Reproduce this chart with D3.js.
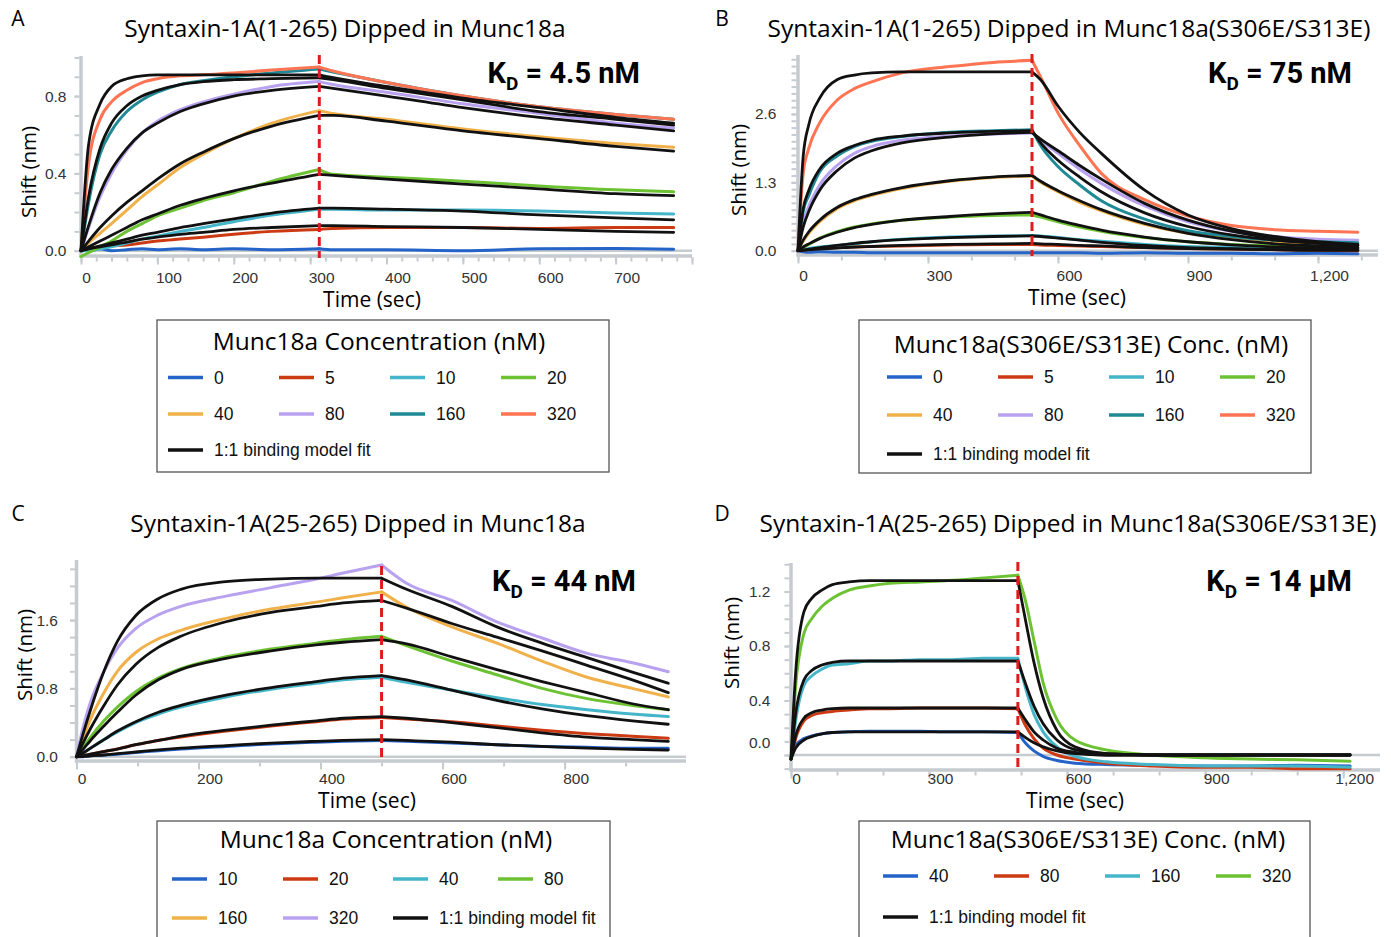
<!DOCTYPE html>
<html><head><meta charset="utf-8">
<script src="https://cdn.jsdelivr.net/npm/d3@7"></script>
<style>body{margin:0;background:#fff}svg{display:block}</style>
</head><body>
<svg id="c" width="1391" height="937"></svg>
<script>
// ---------------- DATA ----------------
// Panel A : Syntaxin-1A(1-265) dipped in Munc18a
const timeA = [0, 10, 25, 40, 60, 80, 100, 130, 160, 200, 250, 312, 330, 400, 500, 600, 700, 776];
const switchA = 312;
const concA = ["0", "5", "10", "20", "40", "80", "160", "320"];
const a0   = [0, 0.005, 0.01, 0.0, 0.005, 0.01, 0.005, 0.01, 0.005, 0.01, 0.005, 0.01, 0.005, 0.005, 0.0, 0.01, 0.012, 0.008];
const a5   = [0.01, 0.015, 0.02, 0.025, 0.03, 0.04, 0.05, 0.06, 0.07, 0.085, 0.10, 0.11, 0.115, 0.12, 0.12, 0.115, 0.12, 0.12];
const a10  = [0, 0.0, 0.01, 0.02, 0.04, 0.06, 0.075, 0.10, 0.12, 0.15, 0.185, 0.215, 0.215, 0.21, 0.21, 0.205, 0.195, 0.19];
const a20  = [-0.03, -0.01, 0.02, 0.05, 0.10, 0.14, 0.18, 0.22, 0.26, 0.30, 0.36, 0.42, 0.395, 0.38, 0.36, 0.335, 0.315, 0.305];
const a40  = [0, 0.04, 0.09, 0.14, 0.21, 0.28, 0.34, 0.43, 0.50, 0.58, 0.66, 0.725, 0.71, 0.68, 0.63, 0.59, 0.555, 0.535];
const a80  = [0, 0.12, 0.28, 0.40, 0.52, 0.61, 0.67, 0.73, 0.77, 0.81, 0.85, 0.875, 0.86, 0.82, 0.76, 0.71, 0.66, 0.635];
const a160 = [0, 0.25, 0.50, 0.62, 0.72, 0.78, 0.82, 0.86, 0.88, 0.90, 0.92, 0.94, 0.925, 0.87, 0.80, 0.745, 0.705, 0.68];
const a320 = [0, 0.45, 0.68, 0.77, 0.83, 0.87, 0.89, 0.905, 0.91, 0.92, 0.935, 0.95, 0.93, 0.87, 0.80, 0.745, 0.705, 0.68];
const fa5   = [0, 0.01, 0.02, 0.03, 0.045, 0.06, 0.07, 0.085, 0.095, 0.11, 0.12, 0.13, 0.13, 0.125, 0.12, 0.11, 0.10, 0.095];
const fa10  = [0, 0.01, 0.025, 0.04, 0.06, 0.08, 0.095, 0.12, 0.14, 0.165, 0.195, 0.22, 0.22, 0.215, 0.205, 0.185, 0.17, 0.16];
const fa20  = [0, 0.02, 0.05, 0.08, 0.12, 0.16, 0.19, 0.235, 0.27, 0.31, 0.35, 0.395, 0.39, 0.37, 0.345, 0.32, 0.295, 0.285];
const fa40  = [0, 0.05, 0.12, 0.18, 0.25, 0.31, 0.37, 0.45, 0.51, 0.58, 0.645, 0.70, 0.70, 0.67, 0.62, 0.58, 0.54, 0.515];
const fa80  = [0, 0.13, 0.30, 0.42, 0.53, 0.61, 0.66, 0.72, 0.76, 0.80, 0.83, 0.85, 0.84, 0.80, 0.74, 0.69, 0.65, 0.62];
const fa160 = [0, 0.28, 0.53, 0.66, 0.75, 0.80, 0.83, 0.86, 0.875, 0.885, 0.89, 0.895, 0.885, 0.84, 0.78, 0.72, 0.68, 0.65];
const fa320 = [0, 0.55, 0.76, 0.85, 0.89, 0.905, 0.91, 0.91, 0.91, 0.91, 0.91, 0.91, 0.895, 0.85, 0.79, 0.74, 0.69, 0.66];

// Panel B : Syntaxin-1A(1-265) dipped in Munc18a(S306E/S313E)
const timeB = [0, 12, 25, 50, 90, 130, 170, 240, 350, 450, 540, 560, 600, 650, 700, 800, 900, 1000, 1100, 1200, 1292];
const switchB = 540;
const concB = ["0", "5", "10", "20", "40", "80", "160", "320"];
const b0   = [0, -0.02, -0.03, -0.02, -0.03, -0.03, -0.04, -0.04, -0.04, -0.04, -0.04, -0.04, -0.04, -0.04, -0.05, -0.04, -0.05, -0.05, -0.06, -0.05, -0.06];
const b5   = [0, 0.01, 0.02, 0.04, 0.06, 0.07, 0.08, 0.09, 0.11, 0.12, 0.12, 0.11, 0.10, 0.09, 0.08, 0.06, 0.04, 0.03, 0.02, 0.01, 0.0];
const b10  = [0, 0.02, 0.04, 0.07, 0.10, 0.13, 0.17, 0.22, 0.26, 0.28, 0.29, 0.28, 0.25, 0.21, 0.18, 0.12, 0.08, 0.06, 0.05, 0.04, 0.04];
const b20  = [0, 0.06, 0.12, 0.24, 0.36, 0.45, 0.51, 0.58, 0.64, 0.67, 0.68, 0.64, 0.55, 0.45, 0.37, 0.25, 0.17, 0.12, 0.09, 0.07, 0.06];
const b40  = [0, 0.18, 0.33, 0.55, 0.80, 0.95, 1.05, 1.18, 1.32, 1.39, 1.42, 1.30, 1.12, 0.92, 0.76, 0.50, 0.33, 0.23, 0.17, 0.13, 0.10];
const b80  = [0, 0.55, 0.85, 1.25, 1.62, 1.85, 1.98, 2.10, 2.18, 2.22, 2.24, 2.10, 1.85, 1.55, 1.28, 0.85, 0.55, 0.37, 0.27, 0.22, 0.20];
const b160 = [0, 0.75, 1.05, 1.50, 1.80, 1.98, 2.08, 2.17, 2.25, 2.28, 2.30, 2.00, 1.60, 1.25, 0.95, 0.60, 0.38, 0.27, 0.20, 0.17, 0.15];
const b320 = [0, 1.47, 1.95, 2.43, 2.86, 3.08, 3.21, 3.38, 3.50, 3.58, 3.62, 3.30, 2.62, 2.00, 1.47, 0.97, 0.66, 0.48, 0.40, 0.37, 0.35];
const fb5   = [0, 0.01, 0.02, 0.03, 0.05, 0.07, 0.08, 0.10, 0.12, 0.13, 0.14, 0.13, 0.12, 0.10, 0.09, 0.06, 0.04, 0.03, 0.02, 0.01, 0.01];
const fb10  = [0, 0.01, 0.03, 0.06, 0.10, 0.14, 0.17, 0.21, 0.25, 0.27, 0.28, 0.27, 0.24, 0.20, 0.16, 0.10, 0.06, 0.04, 0.02, 0.01, 0.01];
const fb20  = [0, 0.07, 0.13, 0.23, 0.35, 0.44, 0.50, 0.58, 0.65, 0.70, 0.73, 0.68, 0.58, 0.48, 0.39, 0.26, 0.17, 0.11, 0.07, 0.05, 0.04];
const fb40  = [0, 0.20, 0.36, 0.58, 0.82, 0.97, 1.07, 1.20, 1.33, 1.40, 1.43, 1.32, 1.14, 0.95, 0.78, 0.52, 0.33, 0.21, 0.13, 0.09, 0.06];
const fb80  = [0, 0.45, 0.75, 1.15, 1.52, 1.76, 1.90, 2.05, 2.16, 2.22, 2.25, 2.12, 1.90, 1.62, 1.36, 0.90, 0.58, 0.37, 0.23, 0.15, 0.10];
const fb160 = [0, 0.80, 1.15, 1.55, 1.85, 2.00, 2.10, 2.18, 2.24, 2.27, 2.28, 2.05, 1.72, 1.40, 1.12, 0.72, 0.46, 0.30, 0.20, 0.14, 0.10];
const fb320 = [0, 1.80, 2.40, 2.90, 3.25, 3.34, 3.38, 3.40, 3.40, 3.40, 3.40, 3.25, 2.75, 2.25, 1.85, 1.15, 0.68, 0.42, 0.27, 0.17, 0.12];

// Panel C : Syntaxin-1A(25-265) dipped in Munc18a
const timeC = [0, 10, 23, 45, 67, 97, 134, 171, 245, 319, 393, 437, 500, 541, 615, 689, 763, 837, 911, 970];
const switchC = 500;
const concC = ["10", "20", "40", "80", "160", "320"];
const c10  = [0, 0.0, 0.01, 0.02, 0.03, 0.05, 0.07, 0.09, 0.12, 0.15, 0.17, 0.18, 0.19, 0.18, 0.16, 0.14, 0.12, 0.11, 0.10, 0.10];
const c20  = [0, 0.01, 0.03, 0.06, 0.09, 0.14, 0.19, 0.23, 0.30, 0.36, 0.41, 0.44, 0.46, 0.44, 0.41, 0.36, 0.31, 0.27, 0.24, 0.215];
const c40  = [0, 0.04, 0.10, 0.20, 0.29, 0.40, 0.50, 0.58, 0.70, 0.79, 0.86, 0.90, 0.93, 0.87, 0.78, 0.69, 0.61, 0.55, 0.50, 0.47];
const c80  = [0, 0.10, 0.23, 0.42, 0.58, 0.76, 0.92, 1.03, 1.17, 1.26, 1.33, 1.37, 1.41, 1.30, 1.12, 0.96, 0.80, 0.68, 0.60, 0.55];
const c160 = [0, 0.20, 0.44, 0.75, 1.00, 1.22, 1.38, 1.48, 1.62, 1.73, 1.81, 1.86, 1.93, 1.75, 1.52, 1.33, 1.12, 0.93, 0.80, 0.70];
const c320 = [0, 0.32, 0.64, 1.00, 1.27, 1.50, 1.66, 1.76, 1.88, 1.98, 2.08, 2.15, 2.245, 2.03, 1.83, 1.58, 1.39, 1.21, 1.10, 0.995];
const fc10  = [0, 0.0, 0.01, 0.02, 0.035, 0.055, 0.08, 0.10, 0.13, 0.16, 0.18, 0.19, 0.20, 0.19, 0.17, 0.14, 0.12, 0.10, 0.085, 0.078];
const fc20  = [0, 0.01, 0.03, 0.06, 0.09, 0.14, 0.19, 0.24, 0.31, 0.37, 0.42, 0.45, 0.47, 0.45, 0.40, 0.34, 0.28, 0.23, 0.20, 0.18];
const fc40  = [0, 0.04, 0.10, 0.20, 0.30, 0.41, 0.52, 0.60, 0.72, 0.81, 0.88, 0.92, 0.95, 0.90, 0.78, 0.66, 0.56, 0.48, 0.42, 0.38];
const fc80  = [0, 0.08, 0.19, 0.36, 0.52, 0.72, 0.90, 1.02, 1.15, 1.24, 1.31, 1.34, 1.37, 1.32, 1.17, 1.02, 0.88, 0.75, 0.62, 0.55];
const fc160 = [0, 0.15, 0.33, 0.60, 0.84, 1.08, 1.28, 1.41, 1.58, 1.69, 1.76, 1.80, 1.83, 1.74, 1.56, 1.40, 1.24, 1.07, 0.90, 0.75];
const fc320 = [0, 0.25, 0.55, 1.00, 1.35, 1.65, 1.85, 1.96, 2.05, 2.08, 2.09, 2.09, 2.09, 1.96, 1.76, 1.52, 1.33, 1.16, 0.99, 0.86];

// Panel D : Syntaxin-1A(25-265) dipped in Munc18a(S306E/S313E)
const timeD = [0, 10, 28, 45, 67, 90, 126, 170, 215, 280, 343, 420, 493, 509, 528, 548, 578, 617, 686, 784, 900, 1000, 1100, 1215];
const switchD = 493;
const concD = ["40", "80", "160", "320"];
const d40  = [-0.03, 0.07, 0.12, 0.14, 0.155, 0.165, 0.17, 0.175, 0.175, 0.175, 0.17, 0.17, 0.165, 0.09, 0.03, -0.01, -0.04, -0.06, -0.07, -0.075, -0.08, -0.08, -0.075, -0.08];
const d80  = [-0.03, 0.12, 0.25, 0.29, 0.31, 0.32, 0.33, 0.34, 0.34, 0.345, 0.345, 0.345, 0.34, 0.22, 0.12, 0.05, 0.0, -0.03, -0.06, -0.08, -0.09, -0.09, -0.10, -0.10];
const d160 = [-0.03, 0.25, 0.51, 0.58, 0.63, 0.66, 0.67, 0.69, 0.69, 0.70, 0.70, 0.71, 0.71, 0.50, 0.30, 0.17, 0.06, -0.01, -0.05, -0.07, -0.08, -0.08, -0.08, -0.09];
const d320 = [-0.03, 0.50, 0.89, 1.00, 1.09, 1.15, 1.21, 1.24, 1.26, 1.27, 1.28, 1.30, 1.32, 1.14, 0.84, 0.53, 0.26, 0.11, 0.037, 0.0, -0.02, -0.03, -0.035, -0.045];
const fd40  = [-0.03, 0.05, 0.11, 0.135, 0.155, 0.165, 0.17, 0.17, 0.17, 0.17, 0.17, 0.17, 0.17, 0.13, 0.09, 0.06, 0.03, 0.01, 0.0, 0, 0, 0, 0, 0];
const fd80  = [-0.03, 0.14, 0.27, 0.31, 0.33, 0.34, 0.345, 0.345, 0.345, 0.345, 0.345, 0.345, 0.345, 0.26, 0.17, 0.11, 0.05, 0.02, 0.0, 0, 0, 0, 0, 0];
const fd160 = [-0.03, 0.30, 0.55, 0.62, 0.66, 0.68, 0.69, 0.69, 0.69, 0.69, 0.69, 0.69, 0.69, 0.53, 0.36, 0.23, 0.11, 0.04, 0.01, 0, 0, 0, 0, 0];
const fd320 = [-0.03, 0.60, 1.05, 1.15, 1.21, 1.25, 1.27, 1.28, 1.28, 1.28, 1.28, 1.28, 1.28, 1.00, 0.68, 0.42, 0.18, 0.06, 0.01, 0, 0, 0, 0, 0];

// Texts
const titles = ["Syntaxin-1A(1-265) Dipped in Munc18a", "Syntaxin-1A(1-265) Dipped in Munc18a(S306E/S313E)",
                "Syntaxin-1A(25-265) Dipped in Munc18a", "Syntaxin-1A(25-265) Dipped in Munc18a(S306E/S313E)"];
const letters = ["A", "B", "C", "D"];
const kdValues = ["4.5 nM", "75 nM", "44 nM", "14 μM"];
const legendTitles = ["Munc18a Concentration (nM)", "Munc18a(S306E/S313E) Conc. (nM)",
                      "Munc18a Concentration (nM)", "Munc18a(S306E/S313E) Conc. (nM)"];
const fitLabel = "1:1 binding model fit";

// ---------------- STYLE ----------------
const BLUE = "#2463c8", RED = "#cc3a14", CYAN = "#45b6c9", GREEN = "#6cc233",
      ORANGE = "#f0b14a", LAV = "#b8a2f0", TEAL = "#1f8a95", SALMON = "#ff7452";
const AXIS = "#c6cbd0", FIT = "#111";
const colorsAB = [BLUE, RED, CYAN, GREEN, ORANGE, LAV, TEAL, SALMON];
const colorsC = [BLUE, RED, CYAN, GREEN, ORANGE, LAV];
const colorsD = [BLUE, RED, CYAN, GREEN];

const svg = d3.select("#c");
const TXT = "'Open Sans', 'Noto Sans', sans-serif";
const ARIAL = "'Liberation Sans', Arial, sans-serif";
const TICKFS = 15.5;

function drawPanel(cfg) {
  const g = svg.append("g");
  const x = d3.scaleLinear().domain([0, cfg.tMax]).range([cfg.x0, cfg.x1]);
  const y = d3.scaleLinear().domain([0, 1]).range([cfg.yZero, cfg.yZero - cfg.pxPerUnit]);

  // zero line
  g.append("line").attr("x1", cfg.x0).attr("x2", cfg.x1).attr("y1", y(0)).attr("y2", y(0))
    .attr("stroke", AXIS).attr("stroke-width", 2.5);
  // axis lines
  g.append("line").attr("x1", cfg.x0).attr("x2", cfg.x0).attr("y1", cfg.yTop).attr("y2", cfg.xAxisY + 1.5)
    .attr("stroke", AXIS).attr("stroke-width", 3.5);
  g.append("line").attr("x1", cfg.x0 - 1.5).attr("x2", cfg.x1).attr("y1", cfg.xAxisY).attr("y2", cfg.xAxisY)
    .attr("stroke", AXIS).attr("stroke-width", 3.5);

  // x ticks
  const xg = g.append("g").attr("transform", `translate(0,${cfg.xAxisY + 1.5})`);
  xg.append("g").call(d3.axisBottom(x).tickValues(cfg.minorX).tickSize(4).tickSizeOuter(0).tickFormat(""));
  xg.append("g").call(d3.axisBottom(x).tickValues(cfg.majorX).tickSize(7).tickSizeOuter(0).tickFormat(cfg.fmtX));
  xg.selectAll(".domain").remove();
  xg.selectAll(".tick line").attr("stroke", AXIS).attr("stroke-width", 2);
  xg.selectAll(".tick text").attr("y", cfg.xLabelOff).attr("dy", "0.35em")
    .attr("dx", d => d === 0 ? 5 : 11)
    .attr("font-family", ARIAL).attr("font-size", TICKFS).attr("fill", "#333");

  // y ticks
  const yg = g.append("g").attr("transform", `translate(${cfg.x0 - 1.5},0)`);
  yg.append("g").call(d3.axisLeft(y).tickValues(cfg.minorY).tickSize(5).tickSizeOuter(0).tickFormat(""));
  yg.append("g").call(d3.axisLeft(y).tickValues(cfg.majorY).tickSize(5).tickSizeOuter(0).tickFormat(d3.format(".1f")));
  yg.selectAll(".domain").remove();
  yg.selectAll(".tick line").attr("stroke", AXIS).attr("stroke-width", 2);
  yg.selectAll(".tick text").attr("x", -cfg.yLabelGap).attr("dy", d => (d === 0 && cfg.zeroShift) ? (0.32 * TICKFS - cfg.zeroShift) + "px" : "0.32em")
    .attr("font-family", ARIAL).attr("font-size", TICKFS).attr("fill", "#333");

  // curves: split association / dissociation
  const line = d3.line().x(d => x(d[0])).y(d => y(d[1])).curve(d3.curveMonotoneX);
  const k = cfg.times.indexOf(cfg.switchT);
  function drawCurve(vals, color, w) {
    const pts = cfg.times.map((t, i) => [t, vals[i]]);
    [pts.slice(0, k + 1), pts.slice(k)].forEach(seg => {
      g.append("path").attr("d", line(seg)).attr("fill", "none").attr("stroke", color)
        .attr("stroke-width", w).attr("stroke-linejoin", "round").attr("stroke-linecap", "round");
    });
  }
  cfg.data.forEach((v, i) => drawCurve(v, cfg.colors[i], 3));
  cfg.fits.forEach(v => drawCurve(v, FIT, 2.8));

  // red dashed line at switch
  g.append("line").attr("x1", x(cfg.switchT)).attr("x2", x(cfg.switchT))
    .attr("y1", cfg.redTop).attr("y2", cfg.redBottom)
    .attr("stroke", "#e01b1b").attr("stroke-width", 3).attr("stroke-dasharray", "9,5");

  // axis titles
  g.append("text").attr("x", cfg.timeX).attr("y", cfg.timeY).attr("text-anchor", "middle")
    .attr("dominant-baseline", "central").attr("font-family", TXT).attr("font-size", 21).text("Time (sec)");
  g.append("text").attr("transform", `translate(${cfg.shiftX},${cfg.shiftY}) rotate(-90)`)
    .attr("text-anchor", "middle").attr("dominant-baseline", "central")
    .attr("font-family", TXT).attr("font-size", 20.5).text("Shift (nm)");

  // title & letter
  g.append("text").attr("x", cfg.titleX).attr("y", cfg.titleY).attr("text-anchor", "middle")
    .attr("dominant-baseline", "central").attr("font-family", TXT).attr("font-size", 24.5).text(cfg.title);
  g.append("text").attr("x", cfg.letterX).attr("y", cfg.titleY - 9).attr("text-anchor", "middle")
    .attr("dominant-baseline", "central").attr("font-family", TXT).attr("font-size", 21).text(cfg.letter);

  // KD
  const kd = g.append("text").attr("x", cfg.kdX).attr("y", cfg.kdY).attr("text-anchor", "end")
    .attr("font-family", "Roboto, 'Open Sans', sans-serif").attr("font-weight", 700).attr("font-size", 29);
  kd.append("tspan").text("K");
  kd.append("tspan").attr("font-size", 19).attr("dy", 7).text("D");
  kd.append("tspan").attr("dy", -7).text(" = " + cfg.kd);

  // legend
  const L = cfg.legend;
  g.append("rect").attr("x", L.x).attr("y", L.y).attr("width", L.w).attr("height", L.h)
    .attr("fill", "none").attr("stroke", "#555").attr("stroke-width", 1.3);
  g.append("text").attr("x", L.tx).attr("y", L.ty).attr("text-anchor", "middle").attr("dominant-baseline", "central")
    .attr("font-family", TXT).attr("font-size", 24.5).text(cfg.legendTitle);
  const items = cfg.concs.map((c, i) => ({label: c, color: cfg.colors[i]}));
  items.push({label: fitLabel, color: FIT});
  items.forEach((it, i) => {
    const col = i % 4, row = Math.floor(i / 4);
    const lx = L.cols[col], ly = L.rows[row];
    g.append("line").attr("x1", lx).attr("x2", lx + 35).attr("y1", ly).attr("y2", ly)
      .attr("stroke", it.color).attr("stroke-width", 3.5);
    g.append("text").attr("x", lx + 46).attr("y", ly).attr("dominant-baseline", "central")
      .attr("font-family", ARIAL).attr("font-size", 17.5).attr("fill", "#111").text(it.label);
  });
}

const fmtInt = d3.format("d"), fmtComma = d3.format(",");

drawPanel({
  title: titles[0], letter: letters[0], kd: kdValues[0], legendTitle: legendTitles[0],
  times: timeA, switchT: switchA, concs: concA, colors: colorsAB,
  data: [a0, a5, a10, a20, a40, a80, a160, a320],
  fits: [fa5, fa10, fa20, fa40, fa80, fa160, fa320],
  x0: 81, x1: 692, tMax: 800, yZero: 250.7, pxPerUnit: 193.25, yTop: 56, xAxisY: 256,
  majorX: d3.range(0, 801, 100), minorX: d3.range(0, 801, 20), fmtX: d => d <= 700 ? fmtInt(d) : "",
  majorY: [0, 0.4, 0.8], minorY: d3.range(0, 1.01, 0.1), yLabelGap: 13, xLabelOff: 20,
  redTop: 55, redBottom: 258,
  timeX: 372, timeY: 299, shiftX: 28, shiftY: 172, titleX: 345, titleY: 27, letterX: 18,
  kdX: 640, kdY: 83,
  legend: {x: 157, y: 320, w: 452, h: 152, tx: 379, ty: 340, cols: [168, 279, 390, 501], rows: [377.5, 414, 450]}
});

drawPanel({
  title: titles[1], letter: letters[1], kd: kdValues[1], legendTitle: legendTitles[1],
  times: timeB, switchT: switchB, concs: concB, colors: colorsAB,
  data: [b0, b5, b10, b20, b40, b80, b160, b320],
  fits: [fb5, fb10, fb20, fb40, fb80, fb160, fb320],
  x0: 798, x1: 1378, tMax: 1338.5, yZero: 250.7, pxPerUnit: 52.6, yTop: 55, xAxisY: 255,
  majorX: d3.range(0, 1201, 300), minorX: d3.range(0, 1301, 100), fmtX: fmtComma,
  majorY: [0, 1.3, 2.6], minorY: d3.range(0, 3.7, 0.13), yLabelGap: 20, xLabelOff: 19,
  redTop: 54, redBottom: 256,
  timeX: 1077, timeY: 297, shiftX: 738, shiftY: 170, titleX: 1069, titleY: 27, letterX: 722,
  kdX: 1352, kdY: 83,
  legend: {x: 859, y: 320, w: 452, h: 153, tx: 1091, ty: 343, cols: [887, 998, 1109, 1220], rows: [377, 415, 454]}
});

drawPanel({
  title: titles[2], letter: letters[2], kd: kdValues[2], legendTitle: legendTitles[2],
  times: timeC, switchT: switchC, concs: concC, colors: colorsC,
  data: [c10, c20, c40, c80, c160, c320],
  fits: [fc10, fc20, fc40, fc80, fc160, fc320],
  x0: 76.5, x1: 686, tMax: 999, yZero: 756.7, pxPerUnit: 85.4, yTop: 560, xAxisY: 761,
  majorX: d3.range(0, 801, 200), minorX: d3.range(0, 1000, 100), fmtX: fmtInt,
  majorY: [0, 0.8, 1.6], minorY: d3.range(0, 2.21, 0.2), yLabelGap: 17, xLabelOff: 16,
  redTop: 566, redBottom: 762,
  timeX: 367, timeY: 800, shiftX: 24, shiftY: 655, titleX: 358, titleY: 522, letterX: 18,
  kdX: 636, kdY: 591,
  legend: {x: 157, y: 821, w: 453, h: 140, tx: 386, ty: 838, cols: [172, 283, 393, 498], rows: [879, 918]}
});

drawPanel({
  title: titles[3], letter: letters[3], kd: kdValues[3], legendTitle: legendTitles[3],
  times: timeD, switchT: switchD, concs: concD, colors: colorsD,
  data: [d40, d80, d160, d320],
  fits: [fd40, fd80, fd160, fd320],
  x0: 791, x1: 1380, tMax: 1280, yZero: 755, pxPerUnit: 136.25, yTop: 563, xAxisY: 770,
  majorX: d3.range(0, 1201, 300), minorX: d3.range(0, 1201, 100), fmtX: fmtComma,
  majorY: [0, 0.4, 0.8, 1.2], minorY: d3.range(-0.1, 1.41, 0.1), yLabelGap: 19, xLabelOff: 7, zeroShift: 12,
  redTop: 562, redBottom: 768,
  timeX: 1075, timeY: 800, shiftX: 731, shiftY: 643, titleX: 1068, titleY: 522, letterX: 722,
  kdX: 1352, kdY: 591,
  legend: {x: 859, y: 821, w: 451, h: 140, tx: 1088, ty: 838, cols: [883, 994, 1105, 1216], rows: [876, 917]}
});
</script>
</body></html>
